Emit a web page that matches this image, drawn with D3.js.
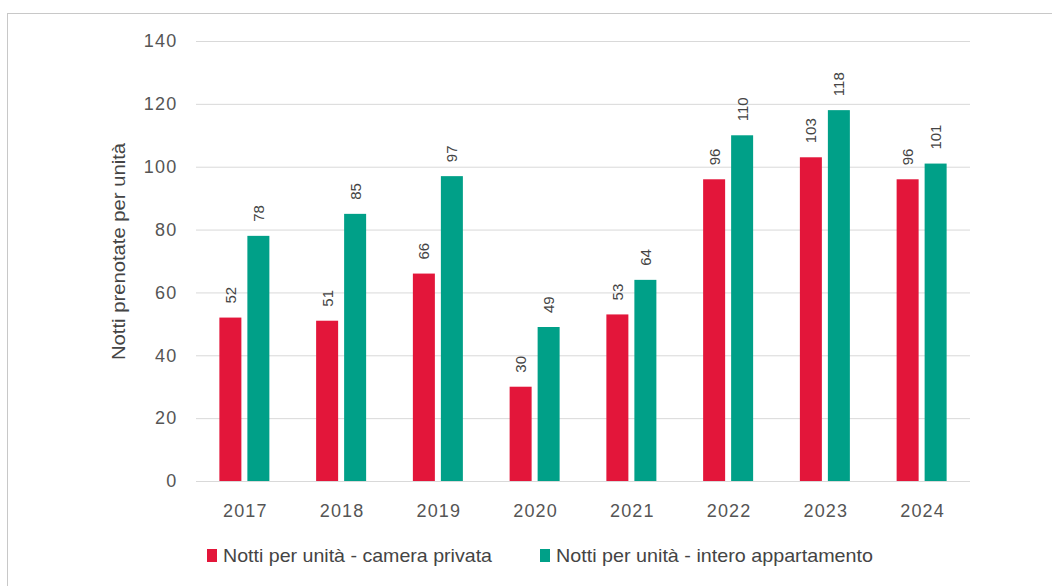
<!DOCTYPE html>
<html><head><meta charset="utf-8">
<script src="https://cdn.jsdelivr.net/npm/d3@7"></script>
<style>body{margin:0;background:#fff;font-family:"Liberation Sans",Arial,sans-serif;}</style>
</head><body><svg id="c" width="1052" height="586"></svg>
<script>
const years = ["2017","2018","2019","2020","2021","2022","2023","2024"];
const cameraPrivata = [52,51,66,30,53,96,103,96];
const interoAppartamento = [78,85,97,49,64,110,118,101];
const seriesNames = ["Notti per unità - camera privata","Notti per unità - intero appartamento"];
const seriesColors = ["#E3163A","#00A088"];
const yTicks = [0,20,40,60,80,100,120,140];
const yTitle = "Notti prenotate per unità";

const svg = d3.select("#c");
svg.append("rect").attr("x",7.5).attr("y",13.5).attr("width",1060).attr("height",600)
  .attr("fill","none").attr("stroke","#c8c8c8").attr("stroke-width",1);

const m = {l:196, r:970, t:41, b:481};
const x = d3.scaleBand().domain(years).range([m.l, m.r]);
const y = d3.scaleLinear().domain([0,140]).range([m.b, m.t]);
const barW = 22, gap = 6;

const g = svg.append("g");
g.append("g").selectAll("line").data(yTicks).join("line")
  .attr("x1",m.l).attr("x2",m.r).attr("y1",d=>y(d)+0.5).attr("y2",d=>y(d)+0.5)
  .attr("stroke","#d9d9d9").attr("stroke-width",1);

const yAxis = d3.axisLeft(y).tickValues(yTicks).tickSize(0).tickPadding(0);
const ya = g.append("g").attr("transform",`translate(177.5,0)`).call(yAxis);
ya.select(".domain").remove();
ya.selectAll("text").attr("font-size",18).attr("fill","#555").attr("letter-spacing",1.2)
  .attr("font-family","Liberation Sans, Arial, sans-serif");

const xAxis = d3.axisBottom(x).tickSize(0).tickPadding(0);
const xa = g.append("g").attr("transform",`translate(1,${m.b+36})`).call(xAxis);
xa.select(".domain").remove();
xa.selectAll("text").attr("font-size",18).attr("fill","#555").attr("dy","0").attr("letter-spacing",1.2)
  .attr("font-family","Liberation Sans, Arial, sans-serif");

const data = [cameraPrivata, interoAppartamento];
data.forEach((vals, si) => {
  const off = si === 0 ? -gap/2 - barW : gap/2;
  const bg = g.append("g");
  bg.selectAll("rect").data(vals).join("rect")
    .attr("x",(d,i)=>x(years[i]) + x.bandwidth()/2 + off)
    .attr("y",d=>y(d)).attr("width",barW).attr("height",d=>y(0)-y(d))
    .attr("fill",seriesColors[si]);
  bg.selectAll("text").data(vals).join("text")
    .attr("transform",(d,i)=>`translate(${x(years[i]) + x.bandwidth()/2 + off + barW/2 + 5.5},${y(d)-14}) rotate(-90)`)
    .attr("text-anchor","start").attr("font-size",15).attr("fill","#444")
    .text(d=>d);
});

svg.append("text").attr("transform",`translate(125,251.5) rotate(-90)`)
  .attr("text-anchor","middle").attr("font-size",18).attr("fill","#444")
  .attr("textLength",217).attr("lengthAdjust","spacingAndGlyphs").text(yTitle);

const legX = [207, 540];
const legW = [269, 317];
seriesNames.forEach((n,i)=>{
  svg.append("rect").attr("x",legX[i]).attr("y",549).attr("width",10).attr("height",13).attr("fill",seriesColors[i]);
  svg.append("text").attr("x",legX[i]+16).attr("y",562).attr("font-size",19).attr("fill","#444")
    .attr("textLength",legW[i]).attr("lengthAdjust","spacingAndGlyphs").text(n);
});
</script></body></html>
